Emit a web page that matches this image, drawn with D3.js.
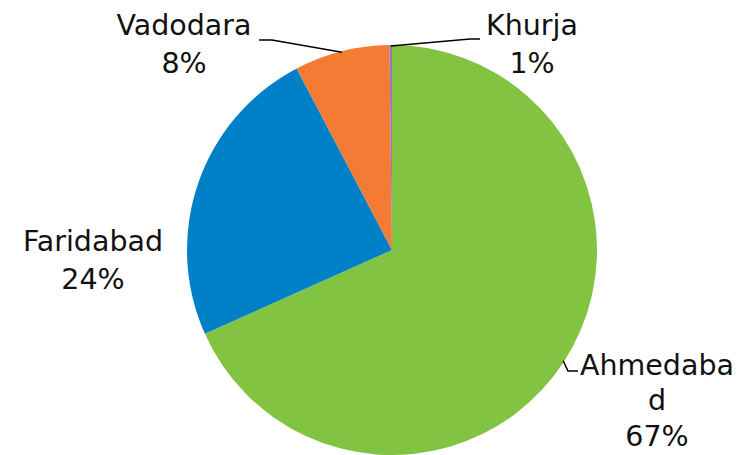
<!DOCTYPE html>
<html>
<head>
<meta charset="utf-8">
<script src="https://cdn.jsdelivr.net/npm/d3@7"></script>
<style>
  html, body { margin: 0; padding: 0; background: #fff; }
  svg { display: block; }
  .lbl { font-family: 'DejaVu Sans', sans-serif; font-size: 28.5px; fill: #111; }
</style>
</head>
<body>
<div id="chart"></div>
<script>
// share of each city (clockwise from 12 o'clock)
const cities = ['Ahmedabad', 'Faridabad', 'Vadodara', 'Khurja'];
const shares = [68.3, 24.0, 7.5, 0.2];
const pctText = ['67%', '24%', '8%', '1%'];
const colors = ['#82c341', '#0080c6', '#f37b34', '#9c78b8'];

const W = 744, H = 455;
const cx = 392, cy = 250, R = 205;

// where the data labels sit (Excel-style, outside the pie)
const labelLayout = {
  Ahmedabad: { lines: ['Ahmedaba', 'd'], x: 657, y: 375, lh: 35.3, elbow: [[568, 371], [578, 371]] },
  Faridabad: { lines: ['Faridabad'], x: 93, y: 251, lh: 38, elbow: null },
  Vadodara:  { lines: ['Vadodara'], x: 184, y: 35, lh: 37.5, elbow: [[272, 40], [259, 40]] },
  Khurja:    { lines: ['Khurja'], x: 532, y: 35, lh: 37.5, elbow: [[470, 39], [480, 39]] }
};

const svg = d3.select('#chart').append('svg').attr('width', W).attr('height', H);
const g = svg.append('g').attr('transform', `translate(${cx},${cy})`);

const data = cities.map((c, i) => ({ city: c, v: shares[i], pct: pctText[i], color: colors[i] }));
const pie = d3.pie().sort(null).value(d => d.v).startAngle(0).endAngle(2 * Math.PI);
const arcs = pie(data);
const arc = d3.arc().innerRadius(0).outerRadius(R);

g.selectAll('path.slice').data(arcs).enter().append('path')
  .attr('class', 'slice')
  .attr('d', arc)
  .attr('fill', d => d.data.color);

// leader lines: from the slice edge at its mid angle to the label elbow
const edge = a => [Math.sin(a) * (R - 1) + cx, -Math.cos(a) * (R - 1) + cy];
arcs.forEach(a => {
  const lay = labelLayout[a.data.city];
  if (!lay.elbow) return;
  const pts = [edge((a.startAngle + a.endAngle) / 2), ...lay.elbow];
  svg.append('path')
    .attr('d', d3.line()(pts))
    .attr('fill', 'none').attr('stroke', '#000').attr('stroke-width', 1.5);
});

arcs.forEach(a => {
  const lay = labelLayout[a.data.city];
  const lines = [...lay.lines, a.data.pct];
  const t = svg.append('text').attr('class', 'lbl').attr('text-anchor', 'middle');
  lines.forEach((s, i) => {
    t.append('tspan').attr('x', lay.x).attr('y', lay.y + i * lay.lh).text(s);
  });
});
</script>
</body>
</html>
